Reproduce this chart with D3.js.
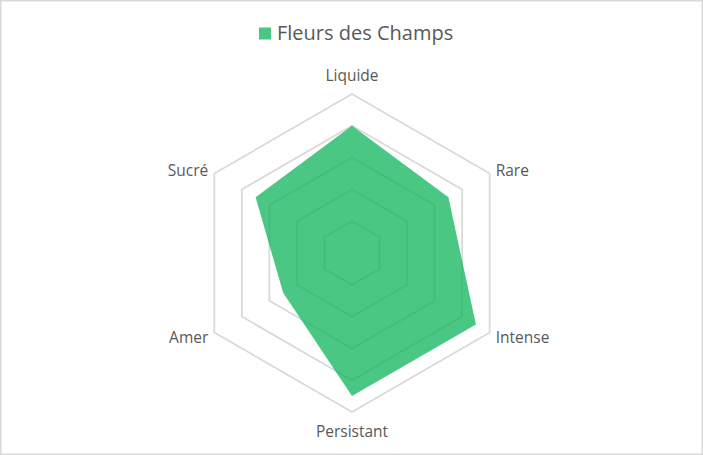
<!DOCTYPE html>
<html lang="fr">
<head>
    <meta charset="UTF-8">
    <title>Radar</title>
    <script src="https://cdn.jsdelivr.net/npm/d3@7/dist/d3.min.js"></script>
    <style>
        html, body { margin: 0; padding: 0; background: #fff; }
        svg { display: block; font-family: "Open Sans", Lato, sans-serif; }
    </style>
</head>
<body>
<div class="radar-container"></div>
<script>
    const width = 703
    const height = 455

    const seriesName = 'Fleurs des Champs'
    const categories = ['Liquide', 'Rare', 'Intense', 'Persistant', 'Amer', 'Sucré']
    const values = [4, 3.5, 4.5, 4.5, 2.5, 3.5]
    const levels = [1, 2, 3, 4, 5]

    const center = { x: 352, y: 253 }
    const radius = 159
    const green = 'rgb(15, 180, 91)'
    const legendGreen = '#4bc784'
    const textColor = '#595959'
    const gridColor = '#d9d9d9'

    const rScale = d3.scaleLinear().domain([0, 5]).range([0, radius])
    const angle = d3.scalePoint().domain(categories).range([0, 2 * Math.PI * (categories.length - 1) / categories.length])

    const svg = d3.select('.radar-container')
        .append('svg')
        .attr('width', width)
        .attr('height', height)

    // cadre
    svg.append('rect')
        .attr('x', 0.75).attr('y', 0.75)
        .attr('width', width - 1.5).attr('height', height - 1.5)
        .attr('fill', '#fff')
        .attr('stroke', gridColor)
        .attr('stroke-width', 1.5)

    const g = svg.append('g')
        .attr('transform', `translate(${center.x}, ${center.y})`)

    const radial = d3.lineRadial()
        .angle(d => angle(d.cat))
        .radius(d => rScale(d.v))
        .curve(d3.curveLinearClosed)

    // grille
    g.selectAll('.ring')
        .data(levels)
        .enter()
        .append('path')
        .attr('class', 'ring')
        .attr('d', lvl => radial(categories.map(cat => ({ cat, v: lvl }))))
        .attr('fill', 'none')
        .attr('stroke', gridColor)
        .attr('stroke-width', 1.75)

    // série
    g.append('path')
        .datum(categories.map((cat, i) => ({ cat, v: values[i] })))
        .attr('d', radial)
        .attr('fill', green)
        .attr('fill-opacity', 0.75)

    // libellés
    function labelPos(cat) {
        const a = angle(cat)
        const r = rScale(5)
        return { x: Math.sin(a) * r, y: -Math.cos(a) * r, a }
    }

    g.selectAll('.label')
        .data(categories)
        .enter()
        .append('text')
        .attr('class', 'label')
        .attr('fill', textColor)
        .attr('font-size', '15.5px')
        .text(d => d)
        .each(function (d) {
            const p = labelPos(d)
            const s = Math.sin(p.a)
            const c = Math.cos(p.a)
            let anchor = 'middle'
            let dx = 0
            let dy = 0
            if (s > 0.1) { anchor = 'start'; dx = 6 }
            else if (s < -0.1) { anchor = 'end'; dx = -6 }
            if (Math.abs(s) < 0.1) dy = c > 0 ? -13.5 : 25
            else dy = c > 0 ? 2.5 : 10
            d3.select(this)
                .attr('text-anchor', anchor)
                .attr('x', p.x + dx)
                .attr('y', p.y + dy)
        })

    // légende
    const legend = svg.append('g').attr('class', 'legend')
    legend.append('rect')
        .attr('x', 259).attr('y', 27.5)
        .attr('width', 12).attr('height', 12)
        .attr('fill', legendGreen)
    legend.append('text')
        .attr('x', 277).attr('y', 40)
        .attr('fill', textColor)
        .attr('font-size', '20px')
        .text(seriesName)
</script>
</body>
</html>
